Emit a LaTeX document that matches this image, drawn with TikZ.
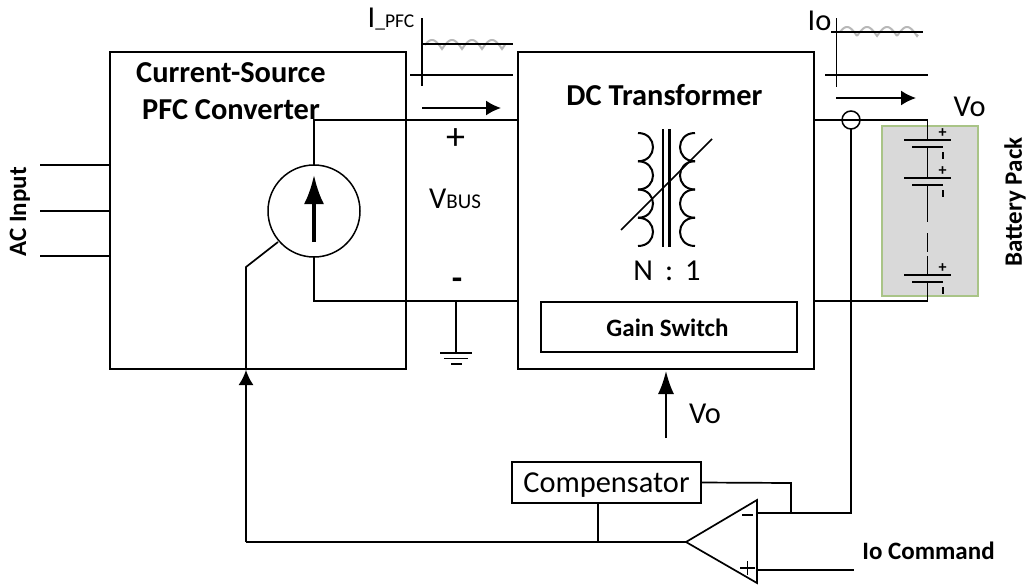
\documentclass[tikz,border=0pt]{standalone}
\usepackage{fontspec}
\setmainfont{Carlito}
\usetikzlibrary{arrows.meta}
\definecolor{packedge}{HTML}{A9C487}
\definecolor{packfill}{HTML}{D9D9D9}
\begin{document}
\begin{tikzpicture}[x=1pt, y=-1pt]
    \tikzstyle{wire}=[line width=1.7pt]
    \tikzstyle{flow}=[line width=1.7pt, -{Latex[length=15pt, width=15pt]}]
    \tikzstyle{block}=[draw, line width=1.7pt, inner sep=0, outer sep=0]
    \tikzstyle{ripple}=[black!28, line width=2pt]
    \tikzstyle{title}=[font=\fontsize{30.4}{37}\selectfont\bfseries, align=center, inner sep=0]
    \tikzstyle{small title}=[font=\fontsize{25}{28}\selectfont\bfseries, inner sep=0]
    \tikzstyle{plain text}=[font=\fontsize{30.4}{34}\selectfont, inner sep=0]
    \useasboundingbox (0, 0) rectangle (1030, 584);
    % blocks
    \node [block, minimum width=296pt, minimum height=317pt] (pfc) at (258, 210.5) {};
    \node [block, minimum width=296pt, minimum height=317pt] (dcx) at (666, 210.5) {};
    \node [block, minimum width=256pt, minimum height=50pt] (gain) at (669, 327) {};
    \node [block, minimum width=189pt, minimum height=41pt, plain text, text depth=0pt] (comp) at (606.5, 482.5) {Compensator};
    \node [title] (pfctext) at (231, 91.5) {Current-Source\\PFC Converter};
    \node [title] (dcxtext) at (664.5, 95) {DC Transformer};
    \node [small title] (gaintext) at (667.5, 328) {Gain Switch};
    \node [draw, circle, line width=1.5pt, minimum size=92pt, inner sep=0, outer sep=0] (src) at (314, 211) {};
    \draw [line width=3.5pt, -{Latex[length=29pt, width=20pt]}] (314, 242) -- (314, 175);
    % battery pack
    \node [draw=packedge, fill=packfill, line width=1.2pt, minimum width=96pt, minimum height=170pt, inner sep=0] (pack) at (930, 211) {};
    \foreach \y/\n in {140/a, 178/b, 275/c} {
        \coordinate (cell\n top) at (927.5, \y);
        \coordinate (cell\n bot) at (927.5, \y+7);
        \draw [wire] (904, \y) -- (951, \y);
        \draw [wire] (912, \y+7) -- (943, \y+7);
        \node [inner sep=0, font=\fontsize{16}{16}\selectfont\bfseries] (plus\n) at (942.5, \y-7) {+};
        \draw [line width=2pt] (942.5, \y+12) -- (942.5, \y+19);
    }
    \coordinate (bustopr) at (927.5, 120);
    \coordinate (busbotr) at (927.5, 301);
    \coordinate (gapa) at (927.5, 222);
    \coordinate (gapb) at (927.5, 233);
    \coordinate (gapc) at (927.5, 252);
    \coordinate (gapd) at (927.5, 256);
    \draw [wire] (bustopr) -- (cellatop);
    \draw [wire] (cellabot) -- (cellbtop);
    \draw [wire] (cellbbot) -- (gapa);
    \draw [wire] (gapb) -- (gapc);
    \draw [wire] (gapd) -- (cellctop);
    \draw [wire] (cellcbot) -- (busbotr);
    % bus wires
    \node [draw, circle, fill=white, line width=1.5pt, minimum size=18pt, inner sep=0, outer sep=0] (sense) at (851, 120) {};
    \coordinate (dcxtopr) at (814, 120);
    \coordinate (dcxbotr) at (814, 301);
    \draw [wire] (dcxtopr) -- (sense.west) -- (sense.east) -- (bustopr);
    \draw [wire] (dcxbotr) -- (busbotr);
    \coordinate (dcxtopl) at (518, 120);
    \coordinate (dcxbotl) at (518, 301);
    \coordinate (srcbot) at (314, 301);
    \coordinate (srctop) at (314, 120);
    \draw [wire] (src.north) -- (srctop) -- (dcxtopl);
    \draw [wire] (src.south) -- (srcbot) -- (dcxbotl);
    % ground
    \coordinate (gndtop) at (456, 301);
    \coordinate (gnd) at (456, 353);
    \draw [wire] (gndtop) -- (gnd);
    \draw [wire] (440, 353) -- (472, 353);
    \draw [wire] (444, 358.5) -- (468, 358.5);
    \draw [wire] (451, 364) -- (462, 364);
    % ac input
    \foreach \y/\n in {165/a, 211/b, 256/c} {
        \coordinate (ac\n) at (40, \y);
        \coordinate (acin\n) at (110, \y);
        \draw [wire] (ac\n) -- (acin\n);
    }
    % transformer
    \foreach \y in {133, 161.25, 189.5, 217.75} {
        \draw [line width=2pt] (638, \y) .. controls (658, \y) and (658, \y+28.25) .. (638, \y+28.25);
        \draw [line width=2pt] (695, \y) .. controls (675, \y) and (675, \y+28.25) .. (695, \y+28.25);
    }
    \draw [line width=2.2pt] (663, 129) -- (663, 247);
    \draw [line width=2.2pt] (669.5, 129) -- (669.5, 247);
    \draw [wire] (621, 230) -- (712, 139);
    \node [plain text] (ratio) at (667, 271) {N\, :\, 1};
    % control loop
    \coordinate (ampapex) at (686, 542);
    \coordinate (amptop) at (757, 500);
    \coordinate (ampbot) at (757, 583);
    \draw [wire] (ampapex) -- (amptop) -- (ampbot) -- cycle;
    \coordinate (ctrlbend) at (246, 267);
    \coordinate (ctrlbot) at (246, 542);
    \coordinate (ctrlarrow) at (246, 370);
    \coordinate (ctrltop) at (278, 242);
    \coordinate (compdrop) at (598, 542);
    \draw [wire] (ctrltop) -- (ctrlbend) -- (ctrlarrow);
    \draw [wire] (ampapex) -- (ctrlbot);
    \draw [flow] (ctrlbot) -- (ctrlarrow);
    \draw [wire] (comp.south -| compdrop) -- (compdrop);
    \coordinate (minusin) at (757, 513);
    \coordinate (plusin) at (757, 570);
    \coordinate (cmdend) at (854, 570);
    \coordinate (fbcorner) at (851, 513);
    \coordinate (compturn) at (791, 483);
    \coordinate (compjoin) at (791, 513);
    \draw [wire] (comp.east) -- (compturn) -- (compjoin);
    \draw [wire] (minusin) -- (fbcorner) -- (sense.south);
    \draw [wire] (plusin) -- (cmdend);
    \draw [line width=1.5pt] (742, 515) -- (753, 515);
    \draw [line width=1.5pt] (740, 568) -- (755, 568);
    \draw [line width=1.5pt] (747.5, 561) -- (747.5, 575);
    \coordinate (vofrom) at (666, 438);
    \coordinate (voto) at (666, 371);
    \draw [line width=1.7pt, -{Latex[length=23pt, width=16pt]}] (vofrom) -- (voto);
    % current waveforms
    \draw [ripple] plot [domain=425:505, samples=81] (\x, {49 - 9*abs(sin((\x-422)*9))});
    \draw [ripple] plot [domain=840:918, samples=81] (\x, {36 - 9*abs(sin((\x-837)*9))});
    \coordinate (ipfcaxa) at (422, 18);
    \coordinate (ipfcaxb) at (422, 86);
    \coordinate (ipfclow) at (410, 75);
    \coordinate (ipfclowb) at (513, 75);
    \coordinate (ipfchigh) at (422, 44);
    \coordinate (ipfchighb) at (513, 44);
    \draw [wire] (ipfcaxa) -- (ipfcaxb);
    \draw [wire] (ipfclow) -- (ipfclowb);
    \draw [wire] (ipfchigh) -- (ipfchighb);
    \coordinate (ipfcfrom) at (422, 108);
    \coordinate (ipfcto) at (501, 108);
    \draw [flow] (ipfcfrom) -- (ipfcto);
    \coordinate (ioaxa) at (836.5, 18);
    \coordinate (ioaxb) at (836.5, 87);
    \coordinate (iolow) at (825, 75);
    \coordinate (iolowb) at (928, 75);
    \coordinate (iohigh) at (831, 32);
    \coordinate (iohighb) at (923, 32);
    \draw [wire] (ioaxa) -- (ioaxb);
    \draw [wire] (iolow) -- (iolowb);
    \draw [wire] (iohigh) -- (iohighb);
    \coordinate (iofrom) at (836, 98);
    \coordinate (ioto) at (916, 98);
    \draw [flow] (iofrom) -- (ioto);
    % labels
    \node [plain text] (ipfclabel) at (391, 19) {I\fontsize{19.5}{20}\selectfont\_PFC};
    \node [plain text] (iolabel) at (819.5, 21) {Io};
    \node [plain text] (volabel) at (969.5, 107) {Vo};
    \node [plain text] (vofb) at (705, 414) {Vo};
    \node [font=\fontsize{38}{38}\selectfont, inner sep=0] (plusbus) at (455.5, 139) {+};
    \node [font=\fontsize{34}{34}\selectfont\bfseries, inner sep=0] (minusbus) at (457, 284) {-};
    \node [plain text] (vbus) at (455, 199) {V\fontsize{21}{21}\selectfont BUS};
    \node [small title, rotate=90] (aclabel) at (20, 212) {AC Input};
    \node [small title, rotate=90] (packlabel) at (1015, 202) {Battery Pack};
    \node [small title] (cmdlabel) at (928.5, 551) {Io Command};
\end{tikzpicture}
\end{document}
